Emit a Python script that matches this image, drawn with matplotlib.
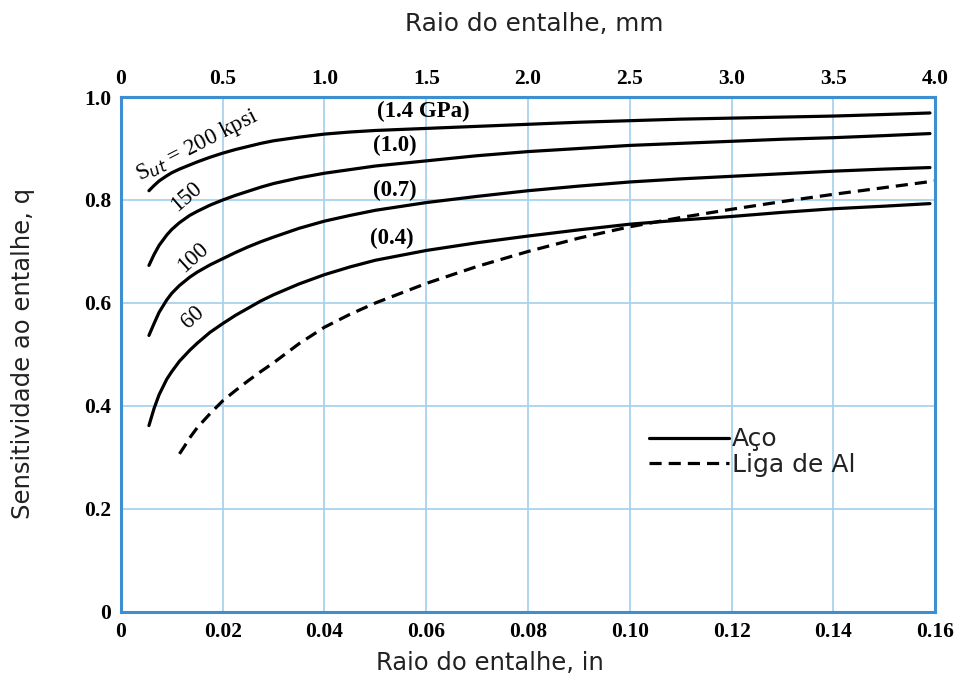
import matplotlib
matplotlib.use('Agg')
import matplotlib.pyplot as plt

# raio do entalhe (in) e sensibilidade q
x_aco = [0.0055, 0.0065, 0.0075, 0.009, 0.010, 0.0115, 0.0135, 0.015, 0.0175, 0.020, 0.0225, 0.025, 0.0275,
         0.030, 0.035, 0.040, 0.045, 0.050, 0.060, 0.070, 0.080, 0.090, 0.100, 0.110, 0.120, 0.130, 0.140,
         0.150, 0.159]
q_200 = [0.818, 0.828, 0.837, 0.847, 0.853, 0.860, 0.868, 0.874, 0.883, 0.891, 0.898, 0.904, 0.910,
         0.915, 0.922, 0.928, 0.932, 0.935, 0.939, 0.943, 0.947, 0.951, 0.954, 0.957, 0.959, 0.961, 0.963,
         0.966, 0.969]
q_150 = [0.673, 0.694, 0.712, 0.732, 0.743, 0.756, 0.770, 0.778, 0.790, 0.800, 0.809, 0.817, 0.825,
         0.832, 0.843, 0.852, 0.859, 0.866, 0.876, 0.886, 0.894, 0.900, 0.906, 0.910, 0.914, 0.918, 0.921,
         0.925, 0.929]
q_100 = [0.537, 0.560, 0.582, 0.606, 0.619, 0.634, 0.650, 0.660, 0.674, 0.686, 0.698, 0.709, 0.719,
         0.728, 0.745, 0.759, 0.770, 0.780, 0.795, 0.807, 0.818, 0.827, 0.835, 0.841, 0.846, 0.851, 0.856,
         0.860, 0.863]
q_60 = [0.362, 0.395, 0.422, 0.452, 0.467, 0.487, 0.508, 0.522, 0.543, 0.560, 0.576, 0.590, 0.604,
        0.616, 0.637, 0.655, 0.670, 0.683, 0.702, 0.717, 0.730, 0.742, 0.753, 0.761, 0.768, 0.776, 0.783,
        0.788, 0.793]

x_al = [0.0115, 0.0125, 0.0135, 0.015, 0.0175, 0.020, 0.0225, 0.025, 0.0275, 0.030, 0.035, 0.040, 0.045,
        0.050, 0.060, 0.070, 0.080, 0.090, 0.100, 0.110, 0.120, 0.130, 0.140, 0.150, 0.160]
q_al = [0.307, 0.322, 0.338, 0.358, 0.385, 0.410, 0.430, 0.449, 0.467, 0.484, 0.521, 0.553, 0.578,
        0.600, 0.638, 0.671, 0.700, 0.726, 0.748, 0.766, 0.782, 0.797, 0.811, 0.824, 0.837]

xticks_in = [0, 0.02, 0.04, 0.06, 0.08, 0.10, 0.12, 0.14, 0.16]
xlabels_in = ['0', '0.02', '0.04', '0.06', '0.08', '0.10', '0.12', '0.14', '0.16']
yticks = [0, 0.2, 0.4, 0.6, 0.8, 1.0]
ylabels = ['0', '0.2', '0.4', '0.6', '0.8', '1.0']
xticks_mm = [0, 0.5, 1.0, 1.5, 2.0, 2.5, 3.0, 3.5, 4.0]
xlabels_mm = ['0', '0.5', '1.0', '1.5', '2.0', '2.5', '3.0', '3.5', '4.0']

azul = '#3d8fd1'
grade = '#a9d2ee'
serif = 'Liberation Serif'
sans = 'DejaVu Sans'

fig = plt.figure(figsize=(9.6, 6.87), dpi=100)
ax = fig.add_axes([0.126, 0.1092, 0.848, 0.7496])

lw = 2.3
ax.plot(x_aco, q_200, color='black', lw=lw, solid_capstyle='round', solid_joinstyle='round', label='Aço')
ax.plot(x_aco, q_150, color='black', lw=lw, solid_capstyle='round', solid_joinstyle='round')
ax.plot(x_aco, q_100, color='black', lw=lw, solid_capstyle='round', solid_joinstyle='round')
ax.plot(x_aco, q_60, color='black', lw=lw, solid_capstyle='round', solid_joinstyle='round')
ax.plot(x_al, q_al, color='black', lw=lw, dashes=(3.8, 2.2), label='Liga de Al')

ax.set_xlim(0, 0.16)
ax.set_ylim(0, 1.0)
ax.set_xticks(xticks_in)
ax.set_xticklabels(xlabels_in, family=serif, weight='bold', fontsize=15.5)
ax.set_yticks(yticks)
ax.set_yticklabels(ylabels, family=serif, weight='bold', fontsize=15.5)
ax.tick_params(length=0, pad=7)
ax.grid(True, color=grade, lw=1.3)
ax.set_axisbelow(True)
for s in ax.spines.values():
    s.set_color(azul)
    s.set_linewidth(2.2)

# eixo de cima em mm
top = ax.secondary_xaxis('top', functions=(lambda v: v * 25, lambda v: v / 25))
top.set_xticks(xticks_mm)
top.set_xticklabels(xlabels_mm, family=serif, weight='bold', fontsize=15.5)
top.tick_params(length=0, pad=6)
top.spines['top'].set_color(azul)
top.spines['top'].set_linewidth(2.2)

fig.text(0.51, 0.018, 'Raio do entalhe, in', ha='center', va='bottom', family=sans, fontsize=17.5, color='#222222')
fig.text(0.557, 0.948, 'Raio do entalhe, mm', ha='center', va='bottom', family=sans, fontsize=17.8, color='#222222')
fig.text(0.024, 0.485, 'Sensitividade ao entalhe, q', ha='center', va='center', rotation=90, family=sans,
         fontsize=17.5, color='#222222')

# rotulos das curvas
ax.text(0.0150, 0.905, r'$\mathregular{S_{\mathit{ut}}}$ = 200 kpsi', family=serif, fontsize=16.5, rotation=27,
        ha='center', va='center')
ax.text(0.0128, 0.806, '150', family=serif, fontsize=16.5, rotation=41, ha='center', va='center')
ax.text(0.0141, 0.689, '100', family=serif, fontsize=16.5, rotation=42, ha='center', va='center')
ax.text(0.0141, 0.573, '60', family=serif, fontsize=16.5, rotation=42, ha='center', va='center')
ax.text(0.0594, 0.971, '(1.4 GPa)', family=serif, weight='bold', fontsize=16.5, ha='center', va='center')
ax.text(0.0539, 0.906, '(1.0)', family=serif, weight='bold', fontsize=16.5, ha='center', va='center')
ax.text(0.0539, 0.819, '(0.7)', family=serif, weight='bold', fontsize=16.5, ha='center', va='center')
ax.text(0.0532, 0.725, '(0.4)', family=serif, weight='bold', fontsize=16.5, ha='center', va='center')

leg = ax.legend(loc='upper left', bbox_to_anchor=(0.636, 0.378), frameon=False, handlelength=3.2,
                handletextpad=0.12, labelspacing=0.05, borderaxespad=0,
                prop={'family': sans, 'size': 18})
for t in leg.get_texts():
    t.set_color('#222222')

plt.savefig('out.png', dpi=100)
